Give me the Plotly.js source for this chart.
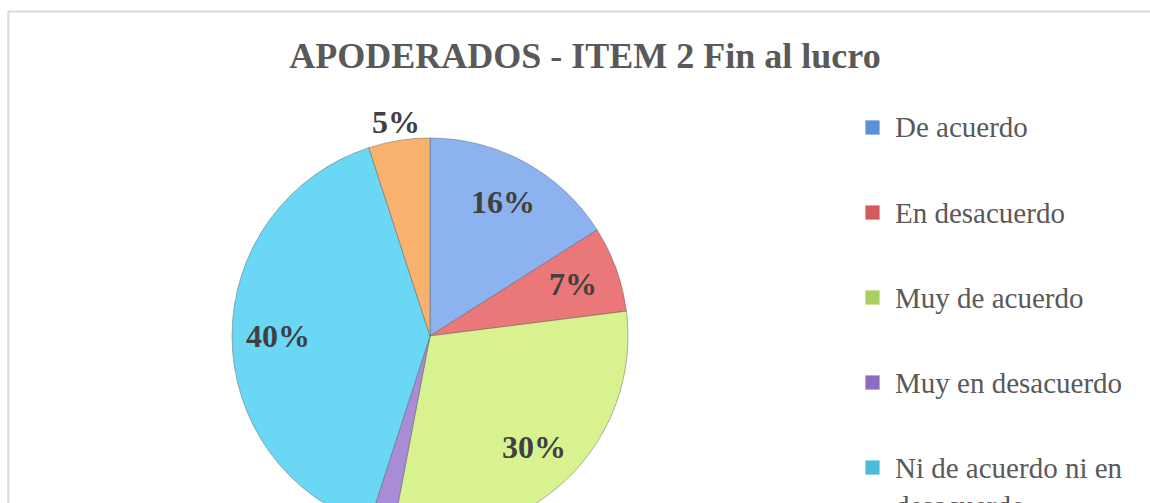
<!DOCTYPE html>
<html>
<head>
<meta charset="utf-8">
<script src="https://cdn.plot.ly/plotly-3.0.1.min.js"></script>
<style>
  html, body { margin: 0; padding: 0; overflow: hidden; background: #ffffff; }
  #chart { width: 1150px; height: 560px; }
</style>
</head>
<body>
<div id="chart"></div>
<script>
// ---- data ----
const categories = ['De acuerdo', 'En desacuerdo', 'Muy de acuerdo', 'Muy en desacuerdo', 'Ni de acuerdo ni en desacuerdo', 'No responde'];
const legendLabels = ['De acuerdo', 'En desacuerdo', 'Muy de acuerdo', 'Muy en desacuerdo', 'Ni de acuerdo ni en<br>desacuerdo', 'No responde'];
const values = [16, 7, 30, 2, 40, 5];
const sliceColors = ['#8cb3ef', '#eb7878', '#d8f290', '#a88cd6', '#6ad8f4', '#f9b26e'];
const legendColors = ['#5b8fd6', '#d65a5a', '#a9cf5c', '#8d6cbf', '#4bbcd8', '#f39a4c'];
const labelMode = ['inside', 'inside', 'inside', 'hidden', 'inside', 'outside'];
const titleText = 'APODERADOS - ITEM 2 Fin al lucro';

// ---- layout constants ----
const W = 1150, H = 560;
const cx = 430, cy = 336, r = 198;
const insideR = 0.77 * r, outsideR = r + 19;
const legendX = 865, legendTextX = 893, legendY0 = 127.5, legendStep = 85, sq = 15;

const px = x => x / W;
const py = y => 1 - y / H;

const trace = {
  type: 'pie',
  labels: categories,
  values: values,
  sort: false,
  direction: 'clockwise',
  rotation: 0,
  marker: { colors: sliceColors, line: { color: 'rgba(90,90,90,0.45)', width: 1 } },
  textinfo: 'none',
  hoverinfo: 'label+percent',
  showlegend: false,
  domain: { x: [px(cx - r), px(cx + r)], y: [py(cy + r), py(cy - r)] }
};

const shapes = [
  { type: 'rect', xref: 'paper', yref: 'paper', x0: px(8.3), x1: 1.05, y0: -0.1, y1: py(11.5),
    line: { color: '#d9d9d9', width: 2 }, fillcolor: 'rgba(0,0,0,0)', layer: 'below' }
];
const annotations = [];

// percentage labels placed at each slice's mid-angle (computed from the values)
const total = values.reduce((a, b) => a + b, 0);
let cum = 0;
values.forEach((v, i) => {
  const mid = (cum + v / 2) / total * 2 * Math.PI;
  cum += v;
  if (labelMode[i] === 'hidden') return;
  const rl = labelMode[i] === 'outside' ? outsideR : insideR;
  annotations.push({ xref: 'paper', yref: 'paper',
    x: px(cx + rl * Math.sin(mid)), y: py(cy - rl * Math.cos(mid)),
    xanchor: 'center', yanchor: 'middle', showarrow: false,
    text: Math.round(v / total * 100) + '%',
    font: { family: 'Liberation Serif', size: 32, color: '#404040', weight: 'bold' } });
});

// legend
legendLabels.forEach((lab, i) => {
  const yc = legendY0 + i * legendStep;
  shapes.push({ type: 'rect', xref: 'paper', yref: 'paper',
    x0: px(legendX), x1: px(legendX + sq), y0: py(yc + sq / 2), y1: py(yc - sq / 2),
    fillcolor: legendColors[i], line: { color: 'rgba(255,255,255,0.8)', width: 1 } });
  annotations.push({ xref: 'paper', yref: 'paper', x: px(legendTextX), y: py(yc - 18),
    xanchor: 'left', yanchor: 'top', align: 'left', showarrow: false, text: lab,
    font: { family: 'Liberation Serif', size: 29, color: '#595959' } });
});

const layout = {
  width: W, height: H,
  margin: { l: 0, r: 0, t: 0, b: 0 },
  paper_bgcolor: '#ffffff',
  title: { text: titleText, x: px(585), xanchor: 'center', y: py(55), yanchor: 'middle',
    font: { family: 'Liberation Serif', size: 36, color: '#595959', weight: 'bold' } },
  shapes: shapes,
  annotations: annotations
};

Plotly.newPlot('chart', [trace], layout, { displayModeBar: false, staticPlot: true });
</script>
</body>
</html>
